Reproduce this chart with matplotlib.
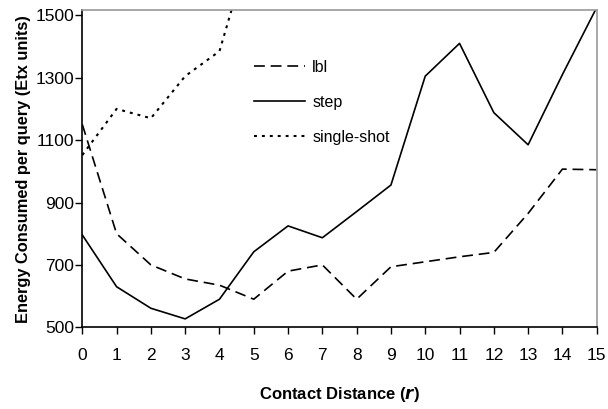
import numpy as np
import matplotlib.pyplot as plt

plt.rcParams['font.family'] = ['Liberation Sans', 'DejaVu Sans']

# contact distance r
r = list(range(16))

# energy per query (Etx units)
lbl = [1150, 800, 700, 655, 635, 590, 680, 700, 590, 694, 710, 726, 740, 865, 1007, 1005]
step = [796, 630, 561, 527, 590, 742, 825, 787, 871, 956, 1305, 1410, 1188, 1085, 1310, 1525]
single_shot = [1052, 1200, 1170, 1305, 1385, 1760]

fig = plt.figure(figsize=(6.08, 4.09), dpi=100)
ax = fig.add_axes([82.3/608, 1-327.3/409, (596.7-82.3)/608, (327.3-10)/409])

ax.plot(r, lbl, color='black', lw=1.2, dashes=(6.5, 3.5), label='lbl')
ax.plot(r, step, color='black', lw=1.2, label='step')
ax.plot(r[:len(single_shot)], single_shot, color='black', lw=1.5, dashes=(1.4, 2.4),
        label='single-shot')

ax.set_xlim(0, 15)
ax.set_ylim(500, 1517)
ax.set_xticks(r)
ax.set_yticks(np.arange(500, 1501, 200))
ax.tick_params(axis='both', labelsize=12.5, direction='out', length=5, width=1, color='black')
ax.tick_params(axis='x', pad=10)
ax.tick_params(axis='y', pad=1)

for s in ['top', 'right']:
    ax.spines[s].set_color('#999999')
    ax.spines[s].set_linewidth(1.2)
for s in ['left', 'bottom']:
    ax.spines[s].set_color('black')
    ax.spines[s].set_linewidth(1.2)

ax.set_xlabel('Contact Distance ($\\boldsymbol{r}$)', fontsize=12, fontweight='bold', labelpad=16)
ax.set_ylabel('Energy Consumed per query (Etx units)', fontsize=11.8, fontweight='bold', labelpad=3)

ax.legend(loc='upper left', bbox_to_anchor=(254/608, 1-60/409), bbox_transform=fig.transFigure,
          frameon=False, fontsize=11.5, handlelength=3.2, handletextpad=0.45,
          labelspacing=1.25, borderpad=0, borderaxespad=0)

fig.savefig('out.png', dpi=100)
